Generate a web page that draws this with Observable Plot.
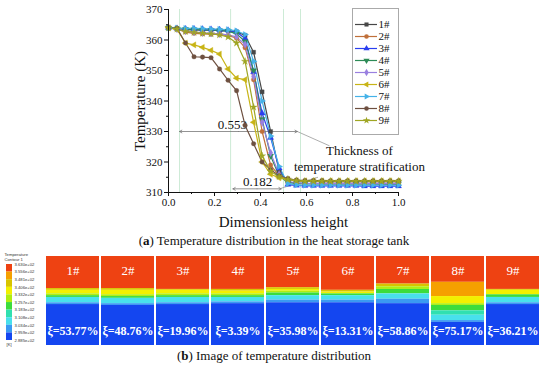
<!DOCTYPE html>
<html><head><meta charset="utf-8">
<script src="https://cdn.jsdelivr.net/npm/d3@7"></script>
<script src="https://cdn.jsdelivr.net/npm/@observablehq/plot@0.6"></script>
<style>
body{margin:0;background:#fff;}
#wrap{position:relative;width:550px;height:369px;overflow:hidden;font-family:"Liberation Serif",serif;}
#wrap > div{position:absolute;}
.cap{font-size:13px;color:#111;white-space:nowrap;text-align:center;left:0;width:548px;}
#leg{border:1px solid #aaa;background:#fff;}
</style></head><body><div id="wrap">
<div id="topc" style="left:0;top:0"></div>
<div id="leg" style="left:352px;top:8px"></div>
<div class="cap" style="top:233px">(<b>a</b>) Temperature distribution in the heat storage tank</div>
<div id="bot" style="left:0;top:250px"></div>
<div id="cbar" style="left:0;top:250px"></div>
<div class="cap" style="top:348px">(<b>b</b>) Image of temperature distribution</div>
</div>
<script>
// ---------- data: line chart ----------
const seriesNames = ["1#","2#","3#","4#","5#","6#","7#","8#","9#"];
const heights = [0,0.037,0.074,0.111,0.148,0.185,0.222,0.259,0.296,0.333,0.370,0.407,0.444,0.481,0.519,0.556,0.593,0.630,0.667,0.704,0.741,0.778,0.815,0.852,0.889,0.926,0.963,1.0];
const s1 = [364.0,363.7,363.4,363.3,363.2,363.2,363.1,363.0,362.7,361.5,356.0,343.0,330.0,317.0,313.5,313.0,312.9,312.9,312.8,312.8,312.8,312.8,312.8,312.8,312.8,312.7,312.7,312.7];
const s2 = [364.0,363.6,362.6,362.2,362.0,361.9,361.8,361.5,360.6,357.5,347.0,330.0,319.0,315.5,314.2,313.8,313.6,313.6,313.5,313.5,313.5,313.5,313.5,313.5,313.5,313.5,313.5,313.5];
const s3 = [364.0,363.8,363.7,363.7,363.6,363.5,363.4,363.2,362.6,360.5,349.5,336.0,328.0,318.0,312.6,312.3,312.2,312.2,312.2,312.2,312.2,312.2,312.2,312.1,312.1,312.1,312.1,312.1];
const s4 = [364.0,363.7,363.5,363.4,363.3,363.2,363.1,362.9,362.0,359.5,350.0,334.0,322.0,315.5,313.3,313.0,312.9,312.9,312.9,312.9,312.9,312.9,312.9,312.9,312.9,312.9,312.9,312.9];
const s5 = [364.0,363.6,363.0,362.6,362.4,362.2,362.0,361.7,361.0,358.5,348.0,333.0,323.0,316.0,313.6,313.2,313.0,313.0,313.0,313.0,313.0,313.0,313.0,313.0,313.0,313.0,313.0,313.0];
const s6 = [364.0,363.5,359.0,358.4,357.6,356.6,355.4,350.5,347.5,347.0,333.0,320.0,316.0,314.8,314.2,313.9,313.8,313.8,313.8,313.8,313.8,313.8,313.8,313.8,313.8,313.8,313.8,313.8];
const s7 = [364.0,363.9,363.8,363.8,363.7,363.6,363.5,363.4,363.0,361.8,353.0,340.0,328.5,318.5,312.9,312.5,312.4,312.4,312.4,312.4,312.4,312.4,312.4,312.4,312.4,312.4,312.4,312.4];
const s8 = [364.0,363.8,359.0,354.5,354.4,354.2,350.5,346.8,343.4,332.0,326.0,320.0,317.5,315.5,314.6,314.1,313.9,313.9,313.9,313.8,313.8,313.8,313.8,313.8,313.8,313.8,313.8,313.8];
const s9 = [364.0,363.6,362.8,362.5,362.2,362.0,361.7,361.0,359.0,353.0,338.0,322.0,317.0,315.2,314.3,313.9,313.7,313.7,313.7,313.7,313.7,313.7,313.7,313.7,313.7,313.7,313.7,313.7];
const yTicks = [310,320,330,340,350,360,370];
const xTicks = [0,0.2,0.4,0.6,0.8,1.0];
const guideXs = [0.048,0.27,0.5,0.574];
const dims = [{label:"0.553", a:0.048, b:0.56, t:330, lx:0.278}, {label:"0.182", a:0.28, b:0.49, t:311.2, lx:0.387}];
const leaders = [{x1:0.56,y1:330,x2:0.70,y2:325.3},{x1:0.49,y1:311.4,x2:0.65,y2:315}];

// ---------- data: contour images ----------
const tempLevels = [363.0,355.6,348.1,340.6,333.2,325.7,318.3,310.8,303.4,295.9,288.5];
const xiValues = ["53.77","48.76","19.96","3.39","35.98","13.31","58.86","75.17","36.21"];
// each layer: [colour level (9 = hottest), bottom depth in % of tank height]
const p1 = [[9,36],[7,38],[6,42],[5,44],[4,46],[2,52],[1,54],[0,100]];
const p2 = [[9,36],[7,38],[6,43],[5,45],[4,47],[2,53],[1,55],[0,100]];
const p3 = [[9,37],[7,38],[6,42],[5,44],[4,46],[2,52],[1,54],[0,100]];
const p4 = [[9,37],[7,39],[6,42],[5,44],[4,46],[2,51],[1,53],[0,100]];
const p5 = [[9,35],[7,37],[6,39],[5,41],[4,44],[2,49],[1,52],[0,100]];
const p6 = [[9,38],[7,40],[6,42],[4,44],[2,49],[1,52],[0,100]];
const p7 = [[9,31],[7,34],[5,37],[4,42],[2,48],[1,53],[0,100]];
const p8 = [[9,29],[8,45],[6,53],[5,55],[4,61],[3,66],[2,72],[1,74],[0,100]];
const p9 = [[9,37],[7,38],[6,43],[4,46],[2,52],[1,54],[0,100]];

// ---------- styles ----------
const lineColors = ["#474747","#c0703a","#2a3ff0","#2e8b57","#9a80e0","#c8b416","#45b2e8","#6e5040","#9fa624"];
const symbols = ["square","circle","triangle","triangle","diamond","triangle","triangle","circle","star"];
const rotations = [0,0,0,180,0,-90,90,0,0];
const palette = ["#1446f0","#3a9af2","#48e0ec","#30e0b0","#3cdc3c","#b0ee10","#f2f000","#d8c400","#f5a000","#ee4212"];
const font = "Liberation Serif";

const allSeries = [s1,s2,s3,s4,s5,s6,s7,s8,s9];
const rows = seriesNames.flatMap((name,k) => allSeries[k].map((t,i) => ({name, h: heights[i], t, rot: rotations[k]})));
const colorScale = {domain: seriesNames, range: lineColors};
const symbolScale = {domain: seriesNames, range: symbols};

const topChart = Plot.plot({
  width: 550, height: 232,
  marginLeft: 168, marginRight: 152, marginTop: 9, marginBottom: 40,
  style: {fontFamily: font, color: "#111", background: "transparent", overflow: "visible"},
  x: {domain: [0,1]},
  y: {domain: [310,370]},
  color: colorScale, symbol: symbolScale,
  marks: [
    Plot.ruleX(guideXs, {stroke: "#cdebd6", strokeWidth: 1}),
    Plot.link(leaders, {x1:"x1", y1:"y1", x2:"x2", y2:"y2", stroke:"#999", strokeWidth: 0.8}),
    Plot.arrow(dims, {x1: d => (d.a+d.b)/2, x2: "a", y1: "t", y2: "t", stroke: "#777", strokeWidth: 0.8, headLength: 5}),
    Plot.arrow(dims, {x1: d => (d.a+d.b)/2, x2: "b", y1: "t", y2: "t", stroke: "#777", strokeWidth: 0.8, headLength: 5}),
    Plot.text(dims, {x: "lx", y: "t", text: "label", dy: -7, fontSize: 13, fill: "#111"}),
    Plot.text(["Thickness of\ntemperature stratification"], {x: 0.83, y: 321.2, fontSize: 13, lineHeight: 1.23, fill: "#111"}),
    Plot.line(rows, {x: "h", y: "t", z: "name", stroke: "name", strokeWidth: 1.2}),
    Plot.dot(rows, {x: "h", y: "t", symbol: "name", fill: "name", stroke: "name", strokeWidth: 0.3, r: 2.3, rotate: "rot"}),
    Plot.ruleX([0], {stroke: "#111"}),
    Plot.ruleY([310], {stroke: "#111"}),
    Plot.axisY({ticks: yTicks, tickSize: 4, tickPadding: 2, fontSize: 11, label: null}),
    Plot.axisY({ticks: [315,325,335,345,355,365], tickSize: 2, tickFormat: () => "", label: null}),
    Plot.axisX({ticks: xTicks, tickSize: 4, tickPadding: 2, fontSize: 11, tickFormat: d3.format(".1f"), label: null}),
    Plot.axisX({ticks: [0.1,0.3,0.5,0.7,0.9], tickSize: 2, tickFormat: () => "", label: null}),
    Plot.text(["Temperature (K)"], {frameAnchor: "left", dx: -28, rotate: -90, textAnchor: "middle", lineAnchor: "middle", fontSize: 15, fontWeight: "normal", fill: "#111"}),
    Plot.text(["Dimensionless height"], {frameAnchor: "bottom", dy: 30, lineAnchor: "middle", fontSize: 15, fontWeight: "normal", fill: "#111"})
  ]
});
document.getElementById("topc").append(topChart);

const legendChart = Plot.plot({
  width: 45, height: 125,
  margin: 0, marginTop: 8, marginBottom: 8,
  style: {fontFamily: font, color: "#111", background: "transparent"},
  y: {type: "point", domain: seriesNames, axis: null},
  color: colorScale, symbol: symbolScale,
  marks: [
    Plot.ruleY(seriesNames, {y: d => d, stroke: d => d, strokeWidth: 1.2, insetLeft: 2, insetRight: 21}),
    Plot.dot(seriesNames, {y: d => d, frameAnchor: "left", dx: 13, symbol: d => d, fill: d => d, r: 2.3, rotate: (d,i) => rotations[i]}),
    Plot.text(seriesNames, {y: d => d, frameAnchor: "left", dx: 25, textAnchor: "start", fontSize: 11, fill: "#111"})
  ]
});
document.getElementById("leg").append(legendChart);

// ---------- contour images ----------
const panels = [p1,p2,p3,p4,p5,p6,p7,p8,p9];
const bands = panels.flatMap((layers, k) => layers.map(([level, bottom], j) => ({
  panel: seriesNames[k], level, top: j === 0 ? 0 : layers[j-1][1], bottom
})));
const panelInfo = seriesNames.map((n,k) => ({panel: n, xi: "\u03BE=" + xiValues[k] + "%"}));

const botChart = Plot.plot({
  width: 550, height: 100,
  marginLeft: 42, marginRight: 7, marginTop: 6, marginBottom: 5,
  style: {fontFamily: font, background: "transparent"},
  x: {type: "band", domain: seriesNames, paddingInner: 0.035, paddingOuter: 0, axis: null},
  y: {domain: [0,100], reverse: true, axis: null},
  color: {type: "ordinal", domain: d3.range(10), range: palette},
  marks: [
    Plot.barY(bands, {x: "panel", y1: "top", y2: "bottom", fill: "level"}),
    Plot.text(panelInfo, {x: "panel", text: "panel", frameAnchor: "top", dy: 14, lineAnchor: "middle", fill: "white", fontSize: 13}),
    Plot.text(panelInfo, {x: "panel", text: "xi", frameAnchor: "bottom", dy: -14, lineAnchor: "middle", fill: "white", fontSize: 12, fontWeight: "bold"})
  ]
});
document.getElementById("bot").append(botChart);

const swatches = d3.range(10).map(i => ({hi: tempLevels[i], lo: tempLevels[i+1], level: 9 - i}));
const cbarChart = Plot.plot({
  width: 42, height: 100,
  marginLeft: 6, marginRight: 30, marginTop: 14, marginBottom: 10,
  style: {fontFamily: "Liberation Sans", background: "transparent", overflow: "visible"},
  y: {domain: [288.5, 363.0], axis: null},
  color: {type: "ordinal", domain: d3.range(10), range: palette},
  marks: [
    Plot.barY(swatches, {y1: "lo", y2: "hi", fill: "level"}),
    Plot.text(tempLevels, {y: d => d, text: d => d3.format(".3e")(d).replace("e+2","e+02"), frameAnchor: "right", dx: 2, textAnchor: "start", fontSize: 4.2, fill: "#333"}),
    Plot.text(["Temperature\nContour 1"], {frameAnchor: "top-left", dy: -11, dx: -2, textAnchor: "start", fontSize: 4.2, lineHeight: 1.0, fill: "#333"}),
    Plot.text(["[K]"], {frameAnchor: "bottom-left", dy: 5, textAnchor: "start", fontSize: 4.2, fill: "#333"})
  ]
});
document.getElementById("cbar").append(cbarChart);
</script>
</body></html>
